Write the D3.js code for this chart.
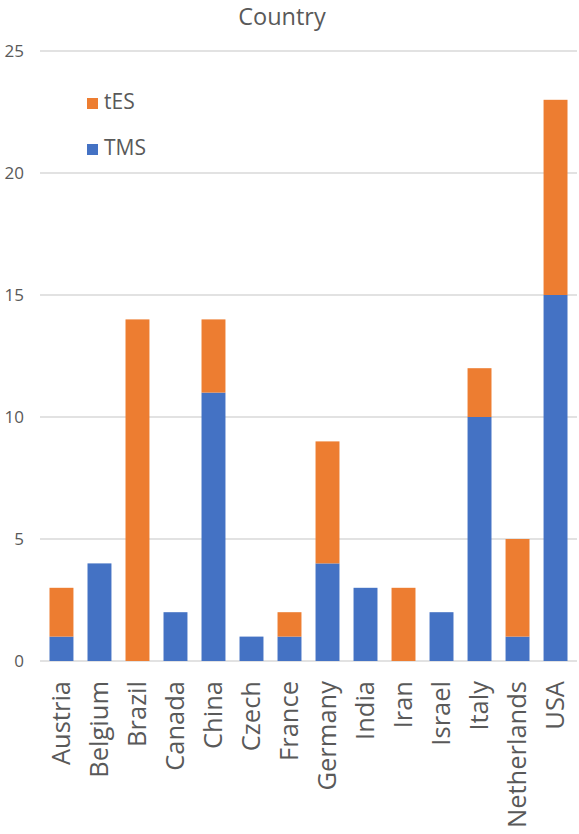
<!DOCTYPE html>
<html>
<head>
<meta charset="utf-8">
<script src="https://cdn.jsdelivr.net/npm/d3@7"></script>
<style>
  body { margin: 0; background: #fff; }
  svg { display: block; font-family: "Open Sans", sans-serif; }
</style>
</head>
<body>
<svg id="chart" width="579" height="834"></svg>
<script>
const categories = ["Austria","Belgium","Brazil","Canada","China","Czech","France","Germany","India","Iran","Israel","Italy","Netherlands","USA"];
const tmsValues = [1,4,0,2,11,1,1,4,3,0,2,10,1,15];
const tesValues = [2,0,14,0,3,0,1,5,0,3,0,2,4,8];
const seriesNames = ["TMS","tES"];
const seriesColors = ["#4472C4","#ED7D31"];
const yTicks = [0,5,10,15,20,25];
const title = "Country";

const svg = d3.select("#chart");

const x = d3.scaleBand().domain(categories).range([40, 577]).paddingInner(0.37).paddingOuter(0.25);
const y = d3.scaleLinear().domain([0, 25]).range([661, 51]);

const rows = categories.map((c, i) => ({ cat: c, TMS: tmsValues[i], tES: tesValues[i] }));
const stacked = d3.stack().keys(seriesNames)(rows);
const color = d3.scaleOrdinal().domain(seriesNames).range(seriesColors);

// gridlines
svg.append("g").selectAll("line").data(yTicks).join("line")
  .attr("x1", 40).attr("x2", 577)
  .attr("y1", d => y(d)).attr("y2", d => y(d))
  .attr("stroke", "#d9d9d9").attr("stroke-width", 1.3);

// y tick labels
const yAxis = d3.axisLeft(y).tickValues(yTicks).tickSize(0).tickPadding(0);
const yg = svg.append("g").attr("transform", "translate(24,0)").call(yAxis);
yg.select(".domain").remove();
yg.selectAll("text").attr("font-size", 17).attr("fill", "#595959")
  .attr("font-family", "Open Sans, sans-serif");

// bars
svg.append("g").selectAll("g").data(stacked).join("g")
  .attr("fill", d => color(d.key))
  .selectAll("rect").data(d => d).join("rect")
  .attr("x", d => x(d.data.cat))
  .attr("width", x.bandwidth())
  .attr("y", d => y(d[1]))
  .attr("height", d => y(d[0]) - y(d[1]));

// x labels
const xAxis = d3.axisBottom(x).tickSize(0).tickPadding(0);
const xg = svg.append("g").attr("transform", "translate(0,681)").call(xAxis);
xg.select(".domain").remove();
xg.selectAll("text")
  .attr("font-size", 25.5).attr("fill", "#595959")
  .attr("font-family", "Open Sans, sans-serif")
  .attr("transform", "rotate(-90)")
  .attr("text-anchor", "end")
  .attr("x", 0).attr("y", 0).attr("dy", "0.35em");

// title
svg.append("text").attr("x", 282).attr("y", 25)
  .attr("text-anchor", "middle").attr("font-size", 23.5).attr("fill", "#595959")
  .text(title);

// legend
const legendItems = [{ name: "tES", y: 109 }, { name: "TMS", y: 155 }];
const lg = svg.append("g").selectAll("g").data(legendItems).join("g");
lg.append("rect").attr("x", 87).attr("y", d => d.y - 11).attr("width", 11).attr("height", 11)
  .attr("fill", d => color(d.name));
lg.append("text").attr("x", 104).attr("y", d => d.y)
  .attr("font-size", 21).attr("fill", "#595959").text(d => d.name);
</script>
</body>
</html>
